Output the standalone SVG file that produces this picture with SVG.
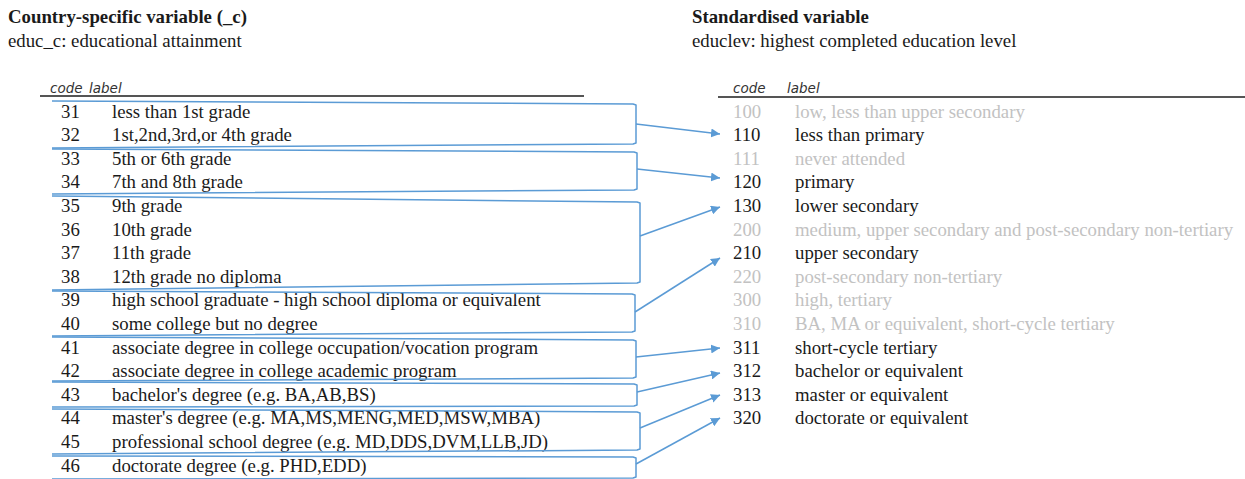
<svg xmlns="http://www.w3.org/2000/svg" width="1245" height="479" viewBox="0 0 1245 479">
<style>
text{font-family:"Liberation Serif","Times New Roman",serif;font-size:18.8px;fill:#1a1a1a}
.h{font-weight:bold}
.hd{font-family:"DejaVu Sans","Liberation Sans",sans-serif;font-style:italic;font-size:13.5px;fill:#333}
.g{fill:#c2c2c2}
.box{fill:none;stroke:#5b9bd5;stroke-width:1.5;stroke-linejoin:round}
.arr{fill:none;stroke:#5b9bd5;stroke-width:1.5}
.rule{stroke:#555;stroke-width:2}
</style>
<defs>
<marker id="ah" viewBox="0 0 10 10" refX="10" refY="5" markerWidth="9" markerHeight="9" markerUnits="userSpaceOnUse" orient="auto">
<path d="M0,0 L10,5 L0,10 z" fill="#5b9bd5"/>
</marker>
</defs>
<rect width="1245" height="479" fill="#fff"/>

<g id="left-header">
<text class="h" x="8" y="23">Country-specific variable (_c)</text>
<text x="8" y="47">educ_c: educational attainment</text>
<text class="hd" x="50" y="93">code</text>
<text class="hd" x="89" y="93">label</text>
<line class="rule" x1="40" y1="96" x2="584" y2="96"/>
</g>

<g id="right-header">
<text class="h" x="692" y="23">Standardised variable</text>
<text x="692" y="47">educlev: highest completed education level</text>
<text class="hd" x="733" y="93">code</text>
<text class="hd" x="787" y="93">label</text>
<line class="rule" x1="718" y1="97" x2="1245" y2="97"/>
</g>

<g id="left-rows">
<text x="61" y="118">31</text><text x="112" y="118">less than 1st grade</text>
<text x="61" y="141">32</text><text x="112" y="141">1st,2nd,3rd,or 4th grade</text>
<text x="61" y="165">33</text><text x="112" y="165">5th or 6th grade</text>
<text x="61" y="188">34</text><text x="112" y="188">7th and 8th grade</text>
<text x="61" y="212">35</text><text x="112" y="212">9th grade</text>
<text x="61" y="236">36</text><text x="112" y="236">10th grade</text>
<text x="61" y="259">37</text><text x="112" y="259">11th grade</text>
<text x="61" y="283">38</text><text x="112" y="283">12th grade no diploma</text>
<text x="61" y="306">39</text><text x="112" y="306">high school graduate - high school diploma or equivalent</text>
<text x="61" y="330">40</text><text x="112" y="330">some college but no degree</text>
<text x="61" y="354">41</text><text x="112" y="354">associate degree in college occupation/vocation program</text>
<text x="61" y="377">42</text><text x="112" y="377">associate degree in college academic program</text>
<text x="61" y="401">43</text><text x="112" y="401">bachelor's degree (e.g. BA,AB,BS)</text>
<text x="61" y="424">44</text><text x="112" y="424">master's degree (e.g. MA,MS,MENG,MED,MSW,MBA)</text>
<text x="61" y="448">45</text><text x="112" y="448">professional school degree (e.g. MD,DDS,DVM,LLB,JD)</text>
<text x="61" y="472">46</text><text x="112" y="472">doctorate degree (e.g. PHD,EDD)</text>
</g>

<g id="right-rows">
<text class="g" x="733" y="118">100</text><text class="g" x="795" y="118">low, less than upper secondary</text>
<text x="733" y="141">110</text><text x="795" y="141">less than primary</text>
<text class="g" x="733" y="165">111</text><text class="g" x="795" y="165">never attended</text>
<text x="733" y="188">120</text><text x="795" y="188">primary</text>
<text x="733" y="212">130</text><text x="795" y="212">lower secondary</text>
<text class="g" x="733" y="236">200</text><text class="g" x="795" y="236">medium, upper secondary and post-secondary non-tertiary</text>
<text x="733" y="259">210</text><text x="795" y="259">upper secondary</text>
<text class="g" x="733" y="283">220</text><text class="g" x="795" y="283">post-secondary non-tertiary</text>
<text class="g" x="733" y="306">300</text><text class="g" x="795" y="306">high, tertiary</text>
<text class="g" x="733" y="330">310</text><text class="g" x="795" y="330">BA, MA or equivalent, short-cycle tertiary</text>
<text x="733" y="354">311</text><text x="795" y="354">short-cycle tertiary</text>
<text x="733" y="377">312</text><text x="795" y="377">bachelor or equivalent</text>
<text x="733" y="401">313</text><text x="795" y="401">master or equivalent</text>
<text x="733" y="424">320</text><text x="795" y="424">doctorate or equivalent</text>
</g>

<g id="group-31-32"><path class="box" d="M52,101 L633,104 L636,105 L636,143 L633,144 L52,148"/></g>
<g id="group-33-34"><path class="box" d="M52,149 L634,152 L637,153 L637,189 L634,190 L52,194"/></g>
<g id="group-35-38"><path class="box" d="M52,196 L637,202 L640,203 L640,282 L637,283 L52,290"/></g>
<g id="group-39-40"><path class="box" d="M52,291 L632,294 L635,295 L635,331 L632,332 L52,336"/></g>
<g id="group-41-42"><path class="box" d="M52,337 L633,340 L636,341 L636,377 L633,378 L52,381"/></g>
<g id="group-43"><path class="box" d="M52,382 L634,384 L637,385 L637,405 L634,406 L52,407"/></g>
<g id="group-44-45"><path class="box" d="M52,409 L637,412 L640,413 L640,449 L637,450 L52,454"/></g>
<g id="group-46"><path class="box" d="M52,456 L633,457 L636,458 L636,477 L633,478 L52,479"/></g>

<g id="connectors">
<line class="arr" x1="636" y1="124" x2="720" y2="134" marker-end="url(#ah)"/>
<line class="arr" x1="637" y1="169" x2="720" y2="178" marker-end="url(#ah)"/>
<line class="arr" x1="640" y1="236" x2="720" y2="207" marker-end="url(#ah)"/>
<line class="arr" x1="635" y1="312" x2="720" y2="258" marker-end="url(#ah)"/>
<line class="arr" x1="636" y1="357" x2="720" y2="348" marker-end="url(#ah)"/>
<line class="arr" x1="637" y1="392" x2="720" y2="373" marker-end="url(#ah)"/>
<line class="arr" x1="640" y1="428" x2="720" y2="395" marker-end="url(#ah)"/>
<line class="arr" x1="636" y1="464" x2="720" y2="418" marker-end="url(#ah)"/>
</g>
</svg>
